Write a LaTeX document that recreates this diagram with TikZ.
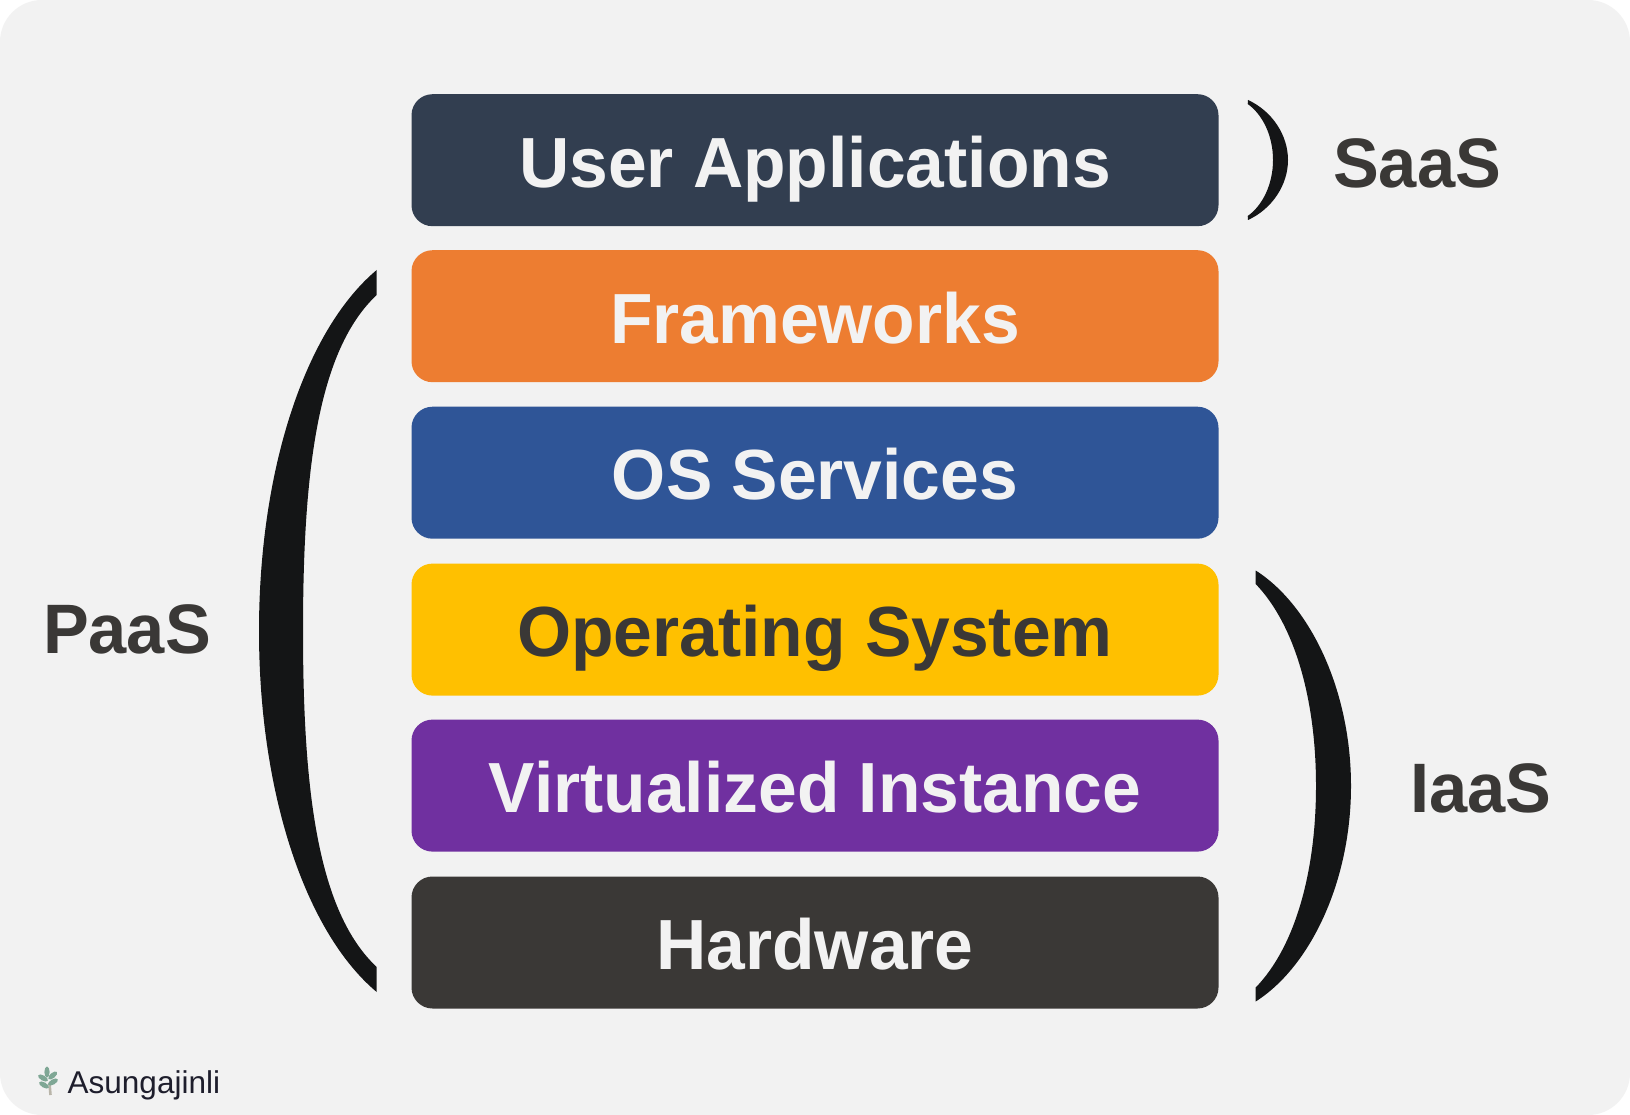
\documentclass[tikz,border=0pt]{standalone}
\usepackage{fontspec}
\setmainfont[FakeStretch=0.98]{Liberation Sans}
\newfontfamily\signfont{Liberation Sans}
\definecolor{pagebg}{HTML}{F2F2F2}
\definecolor{inkdark}{HTML}{3A3836}
\definecolor{inkblack}{HTML}{141516}
\definecolor{slatebox}{HTML}{323E50}
\definecolor{orangebox}{HTML}{ED7D31}
\definecolor{bluebox}{HTML}{2F5597}
\definecolor{yellowbox}{HTML}{FFC000}
\definecolor{purplebox}{HTML}{7030A0}
\definecolor{signtext}{HTML}{1E1E2C}
\definecolor{leafgreen}{HTML}{7FA795}
\definecolor{stemgrey}{HTML}{B9B5A9}
\tikzset{
  layer/.style={rounded corners=21pt,minimum width=807pt,minimum height=132pt,inner sep=0pt,
    text height=60pt,text depth=6pt,text=pagebg,font=\fontsize{71}{71}\selectfont\bfseries},
  tag/.style={inner sep=0pt,text=inkdark,font=\fontsize{70}{70}\selectfont\bfseries},
  paren/.style={fill=inkblack,draw=none},
  leaf/.style={fill=leafgreen,draw=none}
}
\begin{document}
\begin{tikzpicture}[x=1pt,y=-1pt]
\useasboundingbox (0,0) rectangle (1630,1115);
\fill [white] (0,0) rectangle (1630,1115);
\fill [pagebg,rounded corners=42pt] (0,0) rectangle (1630,1115);
\node [layer,fill=slatebox] (user) at (815,160.2) {User Applications};
\node [layer,fill=orangebox] (frameworks) at (815,316.2) {Frameworks};
\node [layer,fill=bluebox] (osservices) at (815,472.7) {OS Services};
\node [layer,fill=yellowbox,text=inkdark] (opsystem) at (815,629.6) {Operating System};
\node [layer,fill=purplebox] (instance) at (815,785.6) {Virtualized Instance};
\node [layer,fill=inkdark] (hardware) at (815,942.5) {Hardware};
\node [tag] (saas) at (1417,163) {SaaS};
\node [tag] (paas) at (127,629) {PaaS};
\node [tag] (iaas) at (1481,788) {IaaS};
\fill [paren] (376.7,270) .. controls (305,330) and (259,470) .. (259,631)
  .. controls (259,792) and (305,932) .. (376.7,992) -- (376.7,967)
  .. controls (318,912) and (303,792) .. (303,631)
  .. controls (303,470) and (318,350) .. (376.7,295) -- cycle;
\fill [paren] (1255.7,570.5) .. controls (1310,605) and (1351,690) .. (1351,786)
  .. controls (1351,882) and (1310,967) .. (1255.7,1001.5) -- (1255.7,987.5)
  .. controls (1295,947) and (1316,872) .. (1316,786)
  .. controls (1316,700) and (1295,625) .. (1255.7,584) -- cycle;
\fill [paren] (1248,100) .. controls (1272,111) and (1288,135) .. (1288,160)
  .. controls (1288,185) and (1272,209) .. (1248,220) -- (1247.7,216)
  .. controls (1262,206) and (1273,185) .. (1273,160)
  .. controls (1273,135) and (1262,114) .. (1247.7,104) -- cycle;
\node [inner sep=0pt,anchor=base west,text=signtext,font=\signfont\fontsize{31.5}{31.5}\selectfont] (sign) at (67.5,1093) {Asungajinli};
\draw [stemgrey,line width=2.6pt] (49.5,1083) -- (50.5,1095);
\foreach \a/\b/\c in {47/1072/90,43/1078/150,52.7/1075.5/40,44/1085/150,53/1082/30}
  \fill [leaf,rotate around={\c:(\a,\b)}] (\a,\b) ellipse (5.5pt and 2.6pt);
\end{tikzpicture}
\end{document}
